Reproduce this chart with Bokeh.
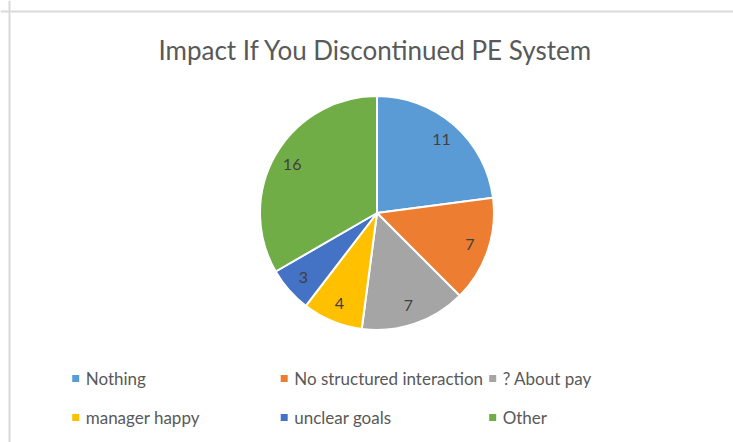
import numpy as np
from bokeh.plotting import figure
from bokeh.models import Range1d, Span, Label, ColumnDataSource
from bokeh.core.properties import value
from bokeh.embed import file_html
from bokeh.resources import INLINE

title = "Impact If You Discontinued PE System"
categories = ["Nothing", "No structured interaction", "? About pay",
              "manager happy", "unclear goals", "Other"]
counts = [11, 7, 7, 4, 3, 16]
colors = ["#5B9BD5", "#ED7D31", "#A5A5A5", "#FFC000", "#4472C4", "#70AD47"]

W, H = 733, 442
FONT = "Lato"

p = figure(width=W, height=H, output_backend="svg", toolbar_location=None,
           x_range=Range1d(0, W), y_range=Range1d(0, H),
           min_border=0, outline_line_color=None)
p.axis.visible = False
p.grid.visible = False
p.background_fill_color = "white"
p.border_fill_color = "white"

# chart-area border (left and top visible)
p.add_layout(Span(location=9, dimension="height", line_color="#d9d9d9", line_width=2))
p.add_layout(Span(location=H - 11, dimension="width", line_color="#d9d9d9", line_width=2))

# title
p.add_layout(Label(x=375, y=H - 49, text=title, text_align="center",
                   text_baseline="middle", text_font=FONT, text_font_size="26px",
                   text_color="#595959"))

# pie
cx, cy, R = 376.5, H - 212.5, 117
vals = np.array(counts, dtype=float)
frac = vals / vals.sum()
cum = np.concatenate([[0], np.cumsum(frac)])
start = np.pi / 2 - 2 * np.pi * cum[:-1]
end = np.pi / 2 - 2 * np.pi * cum[1:]
mid = (start + end) / 2
src = ColumnDataSource(dict(start=start, end=end, color=colors, cat=categories,
                            lx=cx + 98 * np.cos(mid), ly=cy + 98 * np.sin(mid),
                            lab=[str(c) for c in counts]))
p.wedge(x=cx, y=cy, radius=R, start_angle="start", end_angle="end",
        direction="clock", fill_color="color", line_color="white", line_width=2,
        source=src)
p.text(x="lx", y="ly", text="lab", source=src, text_align="center",
       text_baseline="middle", text_font=value(FONT), text_font_size="16px",
       text_color="#404040")

# legend (3 columns, 2 rows)
idx = np.arange(len(categories))
col = idx % 3
row = idx // 3
sq_x = 75.2 + 208.5 * col
sq_y = (H - 378) - 39 * row
lsrc = ColumnDataSource(dict(x=sq_x, y=sq_y, tx=sq_x + 10, color=colors, cat=categories))
p.rect(x="x", y="y", width=7, height=7, fill_color="color", line_color=None, source=lsrc)
p.text(x="tx", y="y", text="cat", source=lsrc, text_align="left",
       text_baseline="middle", text_font=value(FONT), text_font_size="17px",
       text_color="#595959")

open("out.html", "w").write(file_html(p, INLINE))
